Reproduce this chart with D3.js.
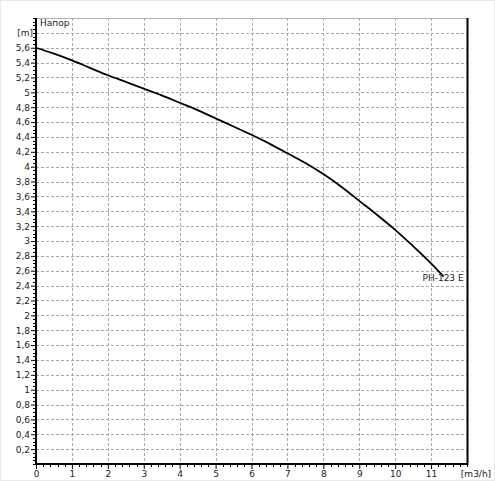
<!DOCTYPE html>
<html><head><meta charset="utf-8">
<script src="https://cdn.jsdelivr.net/npm/d3@7"></script>
<style>body{margin:0;background:#fff}svg{display:block}</style>
</head><body>
<script>
const flow = [0, 0.5, 1, 1.5, 2, 2.5, 3, 3.5, 4, 4.5, 5, 5.5, 6, 6.5, 7, 7.5, 8, 8.5, 9, 9.5, 10, 10.5, 11, 11.35];
const head = [5.6, 5.52, 5.43, 5.33, 5.23, 5.14, 5.05, 4.96, 4.86, 4.76, 4.65, 4.54, 4.43, 4.31, 4.18, 4.05, 3.9, 3.73, 3.54, 3.35, 3.15, 2.93, 2.7, 2.52];
const xTicks = [0,1,2,3,4,5,6,7,8,9,10,11];
const yTicks = [0.2,0.4,0.6,0.8,1,1.2,1.4,1.6,1.8,2,2.2,2.4,2.6,2.8,3,3.2,3.4,3.6,3.8,4,4.2,4.4,4.6,4.8,5,5.2,5.4,5.6];
const yGrid = yTicks.concat([5.8]);
const seriesName = "PH-123 E";
const yTitle = "Напор";
const yUnit = "[m]";
const xUnit = "[m3/h]";

const W = 495, H = 481;
const L = 36, R = 467, T = 18, B = 464;
const x = d3.scaleLinear().domain([0, 12]).range([L, R]);
const y = d3.scaleLinear().domain([0, 6]).range([B, T]);
const font = "'DejaVu Sans', Verdana, sans-serif";

const svg = d3.select("body").append("svg").attr("width", W).attr("height", H);
svg.append("rect").attr("x",0.5).attr("y",0.5).attr("width",W-1).attr("height",H-1)
  .attr("fill","#fff").attr("stroke","#e6eaee");

// grid
const g = svg.append("g");
g.selectAll(".vg").data(xTicks.filter(d=>d>0)).enter().append("line")
  .attr("x1", d=>Math.round(x(d))+0.5).attr("x2", d=>Math.round(x(d))+0.5)
  .attr("y1", T).attr("y2", B).attr("stroke","#a8a8a8").attr("stroke-dasharray","3,2");
g.selectAll(".hg").data(yGrid).enter().append("line")
  .attr("y1", d=>Math.round(y(d))+0.5).attr("y2", d=>Math.round(y(d))+0.5)
  .attr("x1", L).attr("x2", R).attr("stroke","#a8a8a8").attr("stroke-dasharray","3,2");

// top border
svg.append("line").attr("x1",L).attr("x2",R).attr("y1",T+0.5).attr("y2",T+0.5).attr("stroke","#b0b0b0");
// right border
svg.append("line").attr("x1",R+0.5).attr("x2",R+0.5).attr("y1",T).attr("y2",B+1).attr("stroke","#000").attr("stroke-width",2);

// y axis
const yAxis = d3.axisLeft(y).tickValues(yTicks).tickSize(5).tickFormat(d=>String(+d.toFixed(1)).replace(".",","));
const ya = svg.append("g").attr("transform",`translate(${L},0)`).call(yAxis);
ya.select(".domain").attr("stroke","#000").attr("stroke-width",2).attr("d",`M0,${T}V${B}`);
ya.selectAll("text").attr("font-family",font).attr("font-size",9).attr("fill","#222").attr("dx","2");
const yMinor = d3.range(0, 121).map(i=>i*0.05).filter(v=>!yTicks.some(t=>Math.abs(t-v)<1e-6));
ya.selectAll(".ym").data(yMinor).enter().append("line")
  .attr("x1",-3).attr("x2",0).attr("y1",d=>Math.round(y(d))+0.5).attr("y2",d=>Math.round(y(d))+0.5).attr("stroke","#000");
svg.append("text").attr("x",33).attr("y",y(5.8)).attr("dy","0.32em").attr("text-anchor","end")
  .attr("font-family",font).attr("font-size",9).attr("fill","#222").text(yUnit);

// x axis
const xAxis = d3.axisBottom(x).tickValues(xTicks).tickSize(5).tickFormat(d3.format("d"));
const xa = svg.append("g").attr("transform",`translate(0,${B})`).call(xAxis);
xa.select(".domain").attr("stroke","#000").attr("stroke-width",2).attr("d",`M${L-1},0H${R+1}`);
xa.selectAll("text").attr("font-family",font).attr("font-size",9).attr("fill","#222").attr("dy","0.6em");
const xMinor = d3.range(0, 61).map(i=>i*0.2).filter(v=>!xTicks.some(t=>Math.abs(t-v)<1e-6));
xa.selectAll(".xm").data(xMinor).enter().append("line")
  .attr("y1",0).attr("y2",3).attr("x1",d=>Math.round(x(d))+0.5).attr("x2",d=>Math.round(x(d))+0.5).attr("stroke","#000");
svg.append("text").attr("x",476).attr("y",B+13).attr("text-anchor","middle")
  .attr("font-family",font).attr("font-size",9).attr("fill","#222").text(xUnit);

// title
svg.append("text").attr("x",L+4).attr("y",T+8).attr("font-family",font).attr("font-size",9).attr("fill","#222").text(yTitle);

// curve
const pts = flow.map((f,i)=>[f, head[i]]);
svg.append("path").datum(pts)
  .attr("d", d3.line().x(d=>x(d[0])).y(d=>y(d[1])).curve(d3.curveCatmullRom))
  .attr("fill","none").attr("stroke","#000").attr("stroke-width",1.8);
const last = pts[pts.length-1];
svg.append("text").attr("x",x(last[0])+20).attr("y",y(last[1])+4).attr("text-anchor","end")
  .attr("font-family",font).attr("font-size",9).attr("fill","#222").text(seriesName);
</script>
</body></html>
